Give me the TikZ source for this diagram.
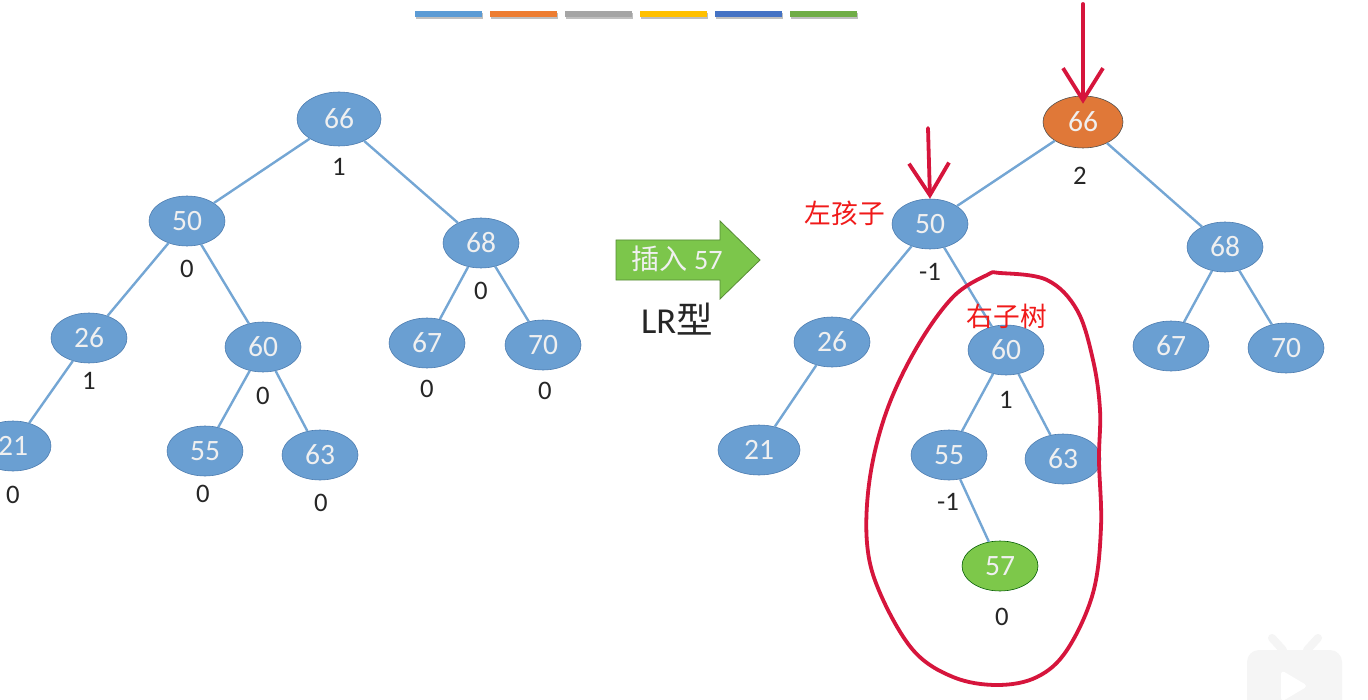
\documentclass[tikz,border=0pt]{standalone}
\usepackage{fontspec}
\setmainfont{Carlito}
\newfontfamily\cjk{Noto Sans CJK SC}
\usepackage{tikz}
\usetikzlibrary{arrows.meta,shapes.geometric}
\definecolor{nodefill}{HTML}{6A9FD2}
\definecolor{nodeline}{HTML}{4A7AAE}
\definecolor{linkblue}{HTML}{74A6D4}
\definecolor{hotfill}{HTML}{E07838}
\definecolor{newfill}{HTML}{7DC84A}
\definecolor{arrfill}{HTML}{7CC64B}
\definecolor{penred}{HTML}{D6153C}
\definecolor{notered}{HTML}{F01A1A}
\definecolor{barblue}{HTML}{5B9BD5}
\definecolor{barorange}{HTML}{ED7D31}
\definecolor{bargray}{HTML}{A5A5A5}
\definecolor{baryellow}{HTML}{FFC000}
\definecolor{bardark}{HTML}{4472C4}
\definecolor{bargreen}{HTML}{70AD47}

\begin{document}
\begin{tikzpicture}[
  x=0.25mm,y=-0.25mm,
  nd/.style={ellipse,draw=nodeline,fill=nodefill,text=white!94!black,minimum width=19mm,minimum height=12.5mm,inner sep=0pt,font=\fontsize{21}{24}\selectfont},
  hot/.style={nd,fill=hotfill,draw=gray!60!black},
  fresh/.style={nd,fill=newfill,draw=green!35!black},
  bal/.style={font=\fontsize{19}{22}\selectfont,text=black!85},
  link/.style={draw=linkblue,line width=0.6mm},
  pen/.style={draw=penred,line width=0.95mm,line cap=round,line join=round},
  redarr/.style={pen,-{Straight Barb[length=8mm,width=10mm]}},
  note/.style={text=notered,font=\cjk\fontsize{19}{22}\selectfont}
]
\useasboundingbox[fill=white] (0,0) rectangle (1368,700);

% colour strip
\foreach \c [count=\i] in {barblue,barorange,bargray,baryellow,bardark,bargreen}{
  \fill[black!25] (415+75*\i-75+1,13) rectangle ++(67,6);
  \fill[\c] (415+75*\i-75,11) rectangle ++(67,6);
}

% tree before insertion
\node[nd,minimum width=21mm,minimum height=13.5mm] (a66) at (339,119) {66};
\node[nd] (a50) at (187,221) {50};
\node[nd] (a68) at (481,243) {68};
\node[nd] (a26) at (89,338) {26};
\node[nd] (a60) at (263,347) {60};
\node[nd] (a67) at (427,343) {67};
\node[nd] (a70) at (543,345) {70};
\node[nd] (a21) at (13,446) {21};
\node[nd] (a55) at (205,451) {55};
\node[nd] (a63) at (320,455) {63};
\draw[link] (a66)--(a50);
\draw[link] (a66)--(a68);
\draw[link] (a50)--(a26);
\draw[link] (a50)--(a60);
\draw[link] (a68)--(a67);
\draw[link] (a68)--(a70);
\draw[link] (a26)--(a21);
\draw[link] (a60)--(a55);
\draw[link] (a60)--(a63);
\node[bal] (ab66) at (339,167) {1};
\node[bal] (ab50) at (187,269) {0};
\node[bal] (ab68) at (481,291) {0};
\node[bal] (ab26) at (89,381) {1};
\node[bal] (ab60) at (263,396) {0};
\node[bal] (ab67) at (427,389) {0};
\node[bal] (ab70) at (545,391) {0};
\node[bal] (ab21) at (13,495) {0};
\node[bal] (ab55) at (203,494) {0};
\node[bal] (ab63) at (321,503) {0};

% insert arrow
\fill[arrfill,draw=arrfill!70!black,line width=0.2mm]
  (616,240) -- (720,240) -- (720,221) -- (760,260) -- (720,299) -- (720,280) -- (616,280) -- cycle;
\node[text=white!94!black,font=\fontsize{20}{24}\selectfont] (ins) at (677,259) {{\cjk 插入} 57};
\node[font=\fontsize{26}{30}\selectfont,text=black!85] (lr) at (677,319) {LR{\cjk 型}};

% tree after insertion
\node[hot,minimum width=20mm,minimum height=13mm] (b66) at (1083,122) {66};
\node[nd] (b50) at (930,224) {50};
\node[nd] (b68) at (1225,247) {68};
\node[nd] (b26) at (832,342) {26};
\node[nd] (b60) at (1006,350) {60};
\node[nd] (b67) at (1171,346) {67};
\node[nd] (b70) at (1286,348) {70};
\node[nd,minimum width=20.5mm] (b21) at (759,450) {21};
\node[nd] (b55) at (949,455) {55};
\node[nd] (b63) at (1063,459) {63};
\node[fresh] (b57) at (1000,566) {57};
\draw[link] (b66)--(b50);
\draw[link] (b66)--(b68);
\draw[link] (b50)--(b26);
\draw[link] (b50)--(b60);
\draw[link] (b68)--(b67);
\draw[link] (b68)--(b70);
\draw[link] (b26)--(b21);
\draw[link] (b60)--(b55);
\draw[link] (b60)--(b63);
\draw[link] (b55)--(b57);
\node[bal] (bb66) at (1080,176) {2};
\node[bal] (bb50) at (930,272) {-1};
\node[bal] (bb60) at (1006,400) {1};
\node[bal] (bb55) at (948,502) {-1};
\node[bal] (bb57) at (1002,617) {0};

% pen marks
\coordinate (top66) at (1083,4);
\coordinate (top50) at (928,128);
\draw[redarr] (top66) -- ([yshift=-2mm]b66.north);
\draw[redarr] (top50) -- (b50.north);
\node[note] (lchild) at (845,213) {左孩子};
\node[note] (rtree) at (1007,316) {右子树};
\draw[pen] plot[smooth cycle,tension=0.6] coordinates {
  (1000,273) (1047,280) (1077,310) (1093,360) (1100,410) (1099,460)
  (1101,527) (1093,593) (1067,650) (1037,677) (997,685) (953,677)
  (913,650) (880,593) (867,543) (870,477) (887,410) (917,347)
  (953,297) (987,275)};

% watermark
\fill[black!4,rounded corners=3mm] (1247,650) rectangle (1342,712);
\draw[black!4,line width=2mm,line cap=round] (1272,638) -- (1283,650);
\draw[black!4,line width=2mm,line cap=round] (1318,638) -- (1307,650);
\fill[white,rounded corners=1mm] (1281,670) -- (1281,702) -- (1308,686) -- cycle;
\end{tikzpicture}
\end{document}
